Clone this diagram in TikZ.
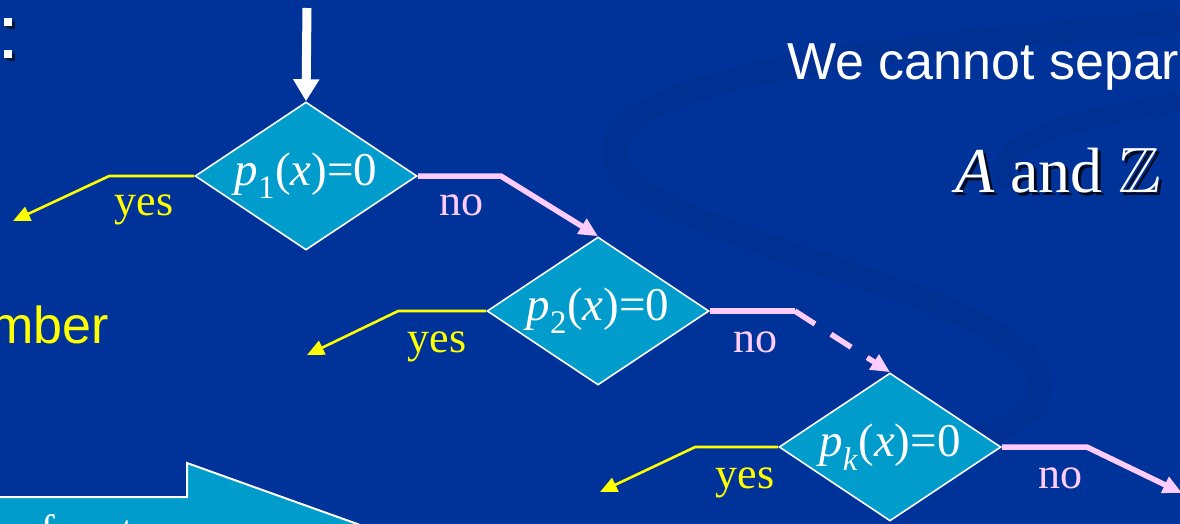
\documentclass[tikz,border=0pt]{standalone}
\usepackage{fontspec}
\usepackage{amssymb}
\setmainfont{Liberation Serif}
\newfontfamily\slidesans{Liberation Sans}
\usetikzlibrary{shapes.geometric,arrows.meta}
\definecolor{bg}{HTML}{003399}
\definecolor{swirlc}{HTML}{002C88}
\definecolor{boxc}{HTML}{009CCC}
\definecolor{pinkc}{HTML}{FFCCFF}
\definecolor{yelc}{HTML}{FFFF00}
\tikzset{
  decision/.style={diamond, aspect=1.5, inner sep=0pt, minimum width=222pt, minimum height=148pt,
    fill=boxc, draw=white, line width=1.6pt, text=white,
    font=\fontsize{47}{50}\selectfont},
  yesline/.style={draw=yelc, line width=2.6pt, -{Triangle[length=17pt,width=15pt]}},
  noline/.style={draw=pinkc, line width=5.5pt, -{Triangle[length=19pt,width=17pt]}},
  yeslbl/.style={text=yelc, anchor=base, font=\fontsize{44}{48}\selectfont},
  nolbl/.style={text=pinkc, anchor=base, font=\fontsize{44}{48}\selectfont},
  swirl/.style={draw=swirlc, opacity=0.4, line cap=round},
}
\begin{document}
\begin{tikzpicture}[x=1pt,y=-1pt]
\useasboundingbox (0,0) rectangle (1180,523);
\clip (0,0) rectangle (1180,523);
\fill[bg] (-5,-5) rectangle (1185,528);
% background swirls
\draw[swirl, line width=24pt] (1200,22) .. controls (900,40) and (590,80) .. (615,160)
   .. controls (640,235) and (960,280) .. (1030,360) .. controls (1075,420) and (960,450) .. (880,458);
\draw[swirl, line width=20pt] (1200,100) .. controls (1080,115) and (990,140) .. (1005,180);
% bullets
\fill[black, opacity=0.6] (7,21) rectangle ++(8,8);
\fill[white] (4,18) rectangle ++(8,8);
\fill[black, opacity=0.6] (7,53) rectangle ++(8,8);
\fill[white] (4,50) rectangle ++(8,8);
% texts
\node[anchor=base west, inner sep=0pt, text=white, font=\slidesans\fontsize{52}{56}\selectfont] (sep) at (787,79) {We cannot separ};
\node[anchor=base west, inner sep=0pt, text=black, opacity=0.8, font=\fontsize{64}{68}\selectfont] (azs) at (958,195) {\textit{A} and $\mathbb{Z}$};
\node[anchor=base west, inner sep=0pt, text=white, font=\fontsize{64}{68}\selectfont] (az) at (955,192) {\textit{A} and $\mathbb{Z}$};
\node[anchor=base west, inner sep=0pt, text=yelc, font=\slidesans\fontsize{52}{56}\selectfont] (mber) at (-10,343) {mber};
% block arrow
\filldraw[fill=boxc, draw=white, line width=2pt] (-5,497) -- (187,497) -- (187,463) -- (430,550) -- (430,600) -- (-5,600) -- cycle;
\node[anchor=base west, inner sep=0pt, text=white, font=\fontsize{44}{48}\selectfont] (bf) at (40,545) {f};
\node[anchor=base west, inner sep=0pt, text=white, font=\fontsize{44}{48}\selectfont] (bt) at (121,545) {t};
% top arrow
\coordinate (start) at (307,8);
% decisions
\node[decision] (d1) at (306,176) {\textit{p}\textsubscript{1}(\textit{x})=0};
\node[decision] (d2) at (598,311) {\textit{p}\textsubscript{2}(\textit{x})=0};
\node[decision] (d3) at (890,447) {\textit{p}\textsubscript{\textit{k}}(\textit{x})=0};
\draw[white, line width=9pt, -{Triangle[length=22pt,width=25pt]}] (start) -- (d1.north);
% yes branches
\coordinate (y1) at (13,221);
\coordinate (y2) at (307,355);
\coordinate (y3) at (600,492);
\draw[yesline] (d1.west) -- ++(-85,0) -- (y1);
\draw[yesline] (d2.west) -- ++(-88,0) -- (y2);
\draw[yesline] (d3.west) -- ++(-83,0) -- (y3);
\node[yeslbl] (l1) at (144,215) {yes};
\node[yeslbl] (l2) at (437,352) {yes};
\node[yeslbl] (l3) at (745,488) {yes};
% no branches
\coordinate (n3) at (1182,493);
\draw[noline] (d1.east) -- ++(83,0) -- (d2.north);
\draw[draw=pinkc, line width=5.5pt] (d2.east) -- ++(85,0) coordinate (k2);
\draw[noline, dash pattern=on 24pt off 19pt] (k2) -- (d3.north);
\draw[noline] (d3.east) -- ++(85,0) -- (n3);
\node[nolbl] (m1) at (461,215) {no};
\node[nolbl] (m2) at (755,352) {no};
\node[nolbl] (m3) at (1060,488) {no};
\end{tikzpicture}
\end{document}
